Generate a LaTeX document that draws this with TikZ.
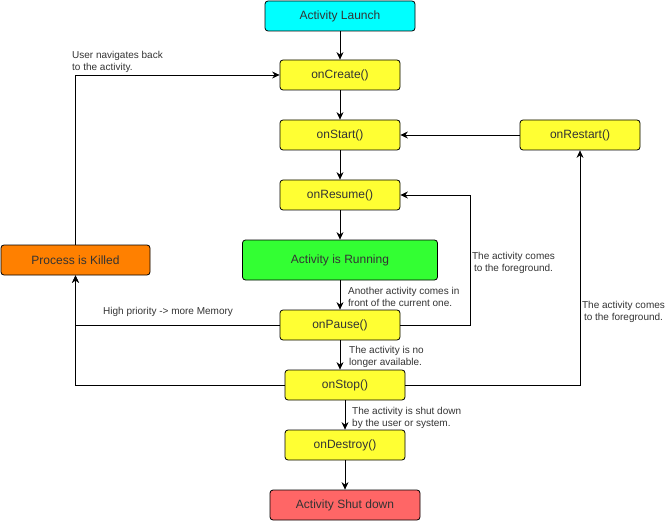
\documentclass[tikz,border=0pt]{standalone}
\usepackage{fontspec}
\setmainfont{Liberation Sans}
\usetikzlibrary{arrows.meta}
\definecolor{launchcyan}{HTML}{00FFFF}
\definecolor{stateyellow}{HTML}{FFFF33}
\definecolor{runninggreen}{HTML}{33FF33}
\definecolor{killedorange}{HTML}{FF8000}
\definecolor{shutred}{HTML}{FF6666}
\definecolor{labelgray}{HTML}{333333}
\begin{document}
\begin{tikzpicture}[x=1pt, y=-1pt, every node/.style={inner sep=0pt,
                      font=\fontsize{12}{14}\selectfont, text=labelgray},
                    state/.style={draw, rounded corners=3pt, line width=0.8pt,
                      minimum width=120pt, minimum height=30pt, fill=stateyellow},
                    lbl/.style={font=\fontsize{10}{12}\selectfont},
                    arr/.style={line width=0.8pt, -{Stealth[length=7.5pt,width=7pt,inset=2.5pt]}}]
                  \useasboundingbox (0,0) rectangle (671,521);
                  \node[state, fill=launchcyan, minimum width=150pt] (launch) at (340,16) {Activity Launch};
                  \node[state] (create) at (340,75) {onCreate()};
                  \node[state] (start) at (340,135) {onStart()};
                  \node[state] (resume) at (340,195) {onResume()};
                  \node[state, fill=runninggreen, minimum width=195pt, minimum height=40pt] (running) at (340,260) {Activity is Running};
                  \node[state] (pause) at (340,325) {onPause()};
                  \node[state] (stop) at (345,385) {onStop()};
                  \node[state] (destroy) at (345,445) {onDestroy()};
                  \node[state, fill=shutred, minimum width=150pt] (shut) at (345,505) {Activity Shut down};
                  \node[state] (restart) at (580,135) {onRestart()};
                  \node[state, fill=killedorange, minimum width=149pt] (killed) at (75.5,260) {Process is Killed};
                  \draw[arr] (launch) -- (create);
                  \draw[arr] (create) -- (start);
                  \draw[arr] (start) -- (resume);
                  \draw[arr] (resume) -- (running);
                  \draw[arr] (running) -- (pause);
                  \draw[arr] (pause.south) -- (pause.south |- stop.north);
                  \draw[arr] (stop) -- (destroy);
                  \draw[arr] (destroy) -- (shut);
                  \draw[arr] (restart) -- (start);
                  \draw[arr] (pause.east) -- ++(70,0) |- (resume.east);
                  \draw[arr] (stop.east) -| (restart.south);
                  \draw[arr] (pause.west) -| (killed.south);
                  \draw[arr] (stop.west) -| (killed.south);
                  \draw[arr] (killed.north) |- (create.west);
                  \node[lbl, anchor=north west, align=left] (back) at (72,51.5) {User navigates back\\to the activity.};
                  \node[lbl, anchor=north west, align=left] (another) at (348,287.5) {Another activity comes in\\front of the current one.};
                  \node[lbl, anchor=north west, align=left] (nolonger) at (349,346.5) {The activity is no\\longer available.};
                  \node[lbl, anchor=north, align=center] (fore1) at (513.5,252.5) {The activity comes\\to the foreground.};
                  \node[lbl, anchor=north, align=center] (fore2) at (623.5,301.5) {The activity comes\\to the foreground.};
                  \node[lbl, anchor=north west, align=left] (shutby) at (352,407.5) {The activity is shut down\\by the user or system.};
                  \node[lbl, anchor=north west] (memory) at (103,307.5) {High priority -> more Memory};
              \end{tikzpicture}
\end{document}
